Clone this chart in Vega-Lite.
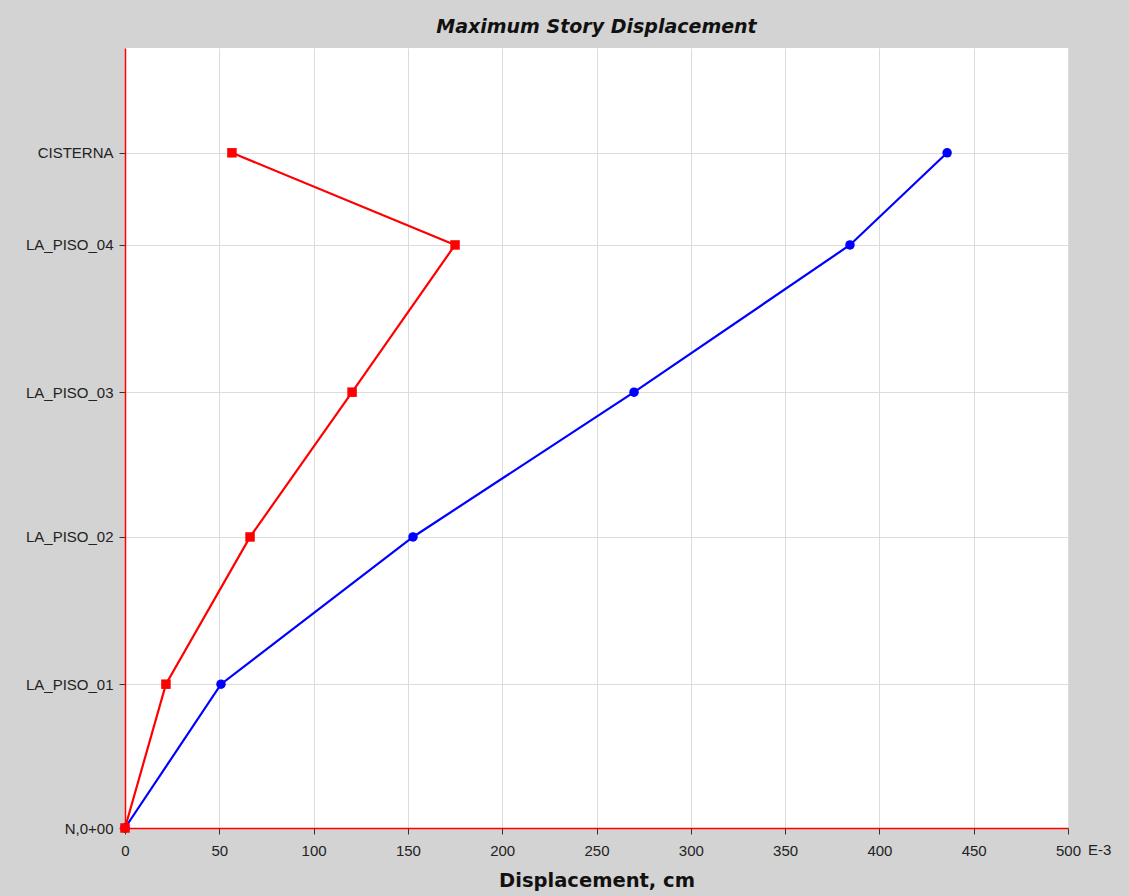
{
  "$schema": "https://vega.github.io/schema/vega-lite/v6.json",
  "autosize": {"type": "none"},
  "width": 943,
  "height": 780,
  "padding": {"left": 125, "top": 48, "right": 61, "bottom": 68},
  "background": "#d3d3d3",
  "title": {
    "text": "Maximum Story Displacement",
    "font": "DejaVu Sans",
    "fontSize": 19,
    "fontWeight": "bold",
    "fontStyle": "italic",
    "color": "#111111",
    "anchor": "middle",
    "offset": 11
  },
  "config": {
    "view": {"fill": "white", "stroke": null}
  },
  "data": {
    "values": [
      {"series": "X", "story": "N,0+00", "elev": 0, "disp": 0},
      {"series": "X", "story": "LA_PISO_01", "elev": 2.95, "disp": 50.9},
      {"series": "X", "story": "LA_PISO_02", "elev": 5.97, "disp": 152.7},
      {"series": "X", "story": "LA_PISO_03", "elev": 8.94, "disp": 269.9},
      {"series": "X", "story": "LA_PISO_04", "elev": 11.96, "disp": 384.4},
      {"series": "X", "story": "CISTERNA", "elev": 13.85, "disp": 435.9},
      {"series": "Y", "story": "N,0+00", "elev": 0, "disp": 0},
      {"series": "Y", "story": "LA_PISO_01", "elev": 2.95, "disp": 21.7},
      {"series": "Y", "story": "LA_PISO_02", "elev": 5.97, "disp": 66.3},
      {"series": "Y", "story": "LA_PISO_03", "elev": 8.94, "disp": 120.4},
      {"series": "Y", "story": "LA_PISO_04", "elev": 11.96, "disp": 175.0},
      {"series": "Y", "story": "CISTERNA", "elev": 13.85, "disp": 56.7}
    ]
  },
  "layer": [
    {
      "encoding": {
        "x": {
          "field": "disp",
          "type": "quantitative",
          "scale": {"domain": [0, 500], "nice": false, "zero": false},
          "axis": {
            "values": [0, 50, 100, 150, 200, 250, 300, 350, 400, 450, 500],
            "grid": true,
            "gridColor": "#dcdcdc",
            "gridWidth": 1,
            "domainColor": "#ff0000",
            "domainWidth": 1.5,
            "tickColor": "#333333",
            "tickSize": 6,
            "labelFlush": false,
            "labelFont": "Liberation Sans",
            "labelFontSize": 15,
            "labelColor": "#222222",
            "labelPadding": 9,
            "title": "Displacement, cm",
            "titleFont": "DejaVu Sans",
            "titleFontSize": 19.5,
            "titleFontWeight": "bold",
            "titleColor": "#111111",
            "titlePadding": 13
          }
        },
        "y": {
          "field": "elev",
          "type": "quantitative",
          "scale": {"domain": [0, 16], "nice": false, "zero": false},
          "axis": {
            "values": [0, 2.95, 5.97, 8.94, 11.96, 13.85],
            "labelExpr": "datum.value == 0 ? 'N,0+00' : datum.value == 2.95 ? 'LA_PISO_01' : datum.value == 5.97 ? 'LA_PISO_02' : datum.value == 8.94 ? 'LA_PISO_03' : datum.value == 11.96 ? 'LA_PISO_04' : 'CISTERNA'",
            "grid": true,
            "gridColor": "#dcdcdc",
            "gridWidth": 1,
            "domainColor": "#ff0000",
            "domainWidth": 1.5,
            "tickColor": "#333333",
            "tickSize": 6,
            "labelFlush": false,
            "labelFont": "Liberation Sans",
            "labelFontSize": 15,
            "labelColor": "#222222",
            "labelPadding": 6,
            "title": null
          }
        },
        "color": {
          "field": "series",
          "type": "nominal",
          "scale": {"domain": ["X", "Y"], "range": ["#0000ff", "#ff0000"]},
          "legend": null
        }
      },
      "layer": [
        {
          "mark": {"type": "line", "strokeWidth": 2.2},
          "encoding": {"order": {"field": "elev", "type": "quantitative"}}
        },
        {
          "mark": {"type": "point", "filled": true, "opacity": 1, "size": 90},
          "encoding": {
            "shape": {
              "field": "series",
              "type": "nominal",
              "scale": {"domain": ["X", "Y"], "range": ["circle", "square"]},
              "legend": null
            }
          }
        }
      ]
    },
    {
      "data": {"values": [{"unit": "E-3"}]},
      "mark": {
        "type": "text",
        "align": "left",
        "baseline": "top",
        "dx": 20,
        "dy": 15,
        "font": "Liberation Sans",
        "fontSize": 15,
        "fontWeight": "normal",
        "color": "#222222"
      },
      "encoding": {
        "text": {"field": "unit"},
        "x": {"datum": 500, "type": "quantitative"},
        "y": {"datum": 0, "type": "quantitative"}
      }
    }
  ]
}
